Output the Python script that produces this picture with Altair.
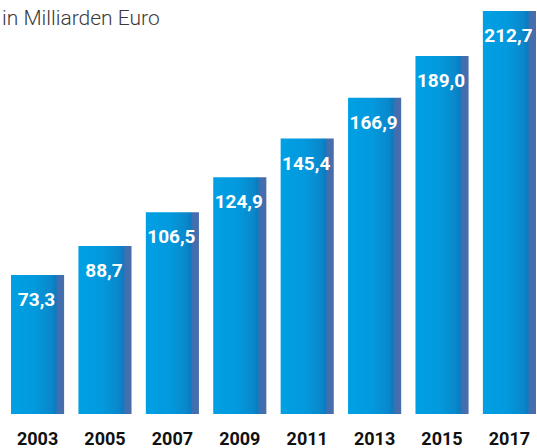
import altair as alt
import pandas as pd

years = ["2003", "2005", "2007", "2009", "2011", "2013", "2015", "2017"]
values = [73.3, 88.7, 106.5, 124.9, 145.4, 166.9, 189.0, 212.7]
labels = ["73,3", "88,7", "106,5", "124,9", "145,4", "166,9", "189,0", "212,7"]

df = pd.DataFrame({"year": years, "value": values, "label": labels})

grad = alt.LinearGradient(
    gradient="linear",
    x1=0, x2=1, y1=0, y2=0,
    stops=[
        alt.GradientStop(color="#00a0e4", offset=0),
        alt.GradientStop(color="#0399dd", offset=0.45),
        alt.GradientStop(color="#0a88cc", offset=0.75),
        alt.GradientStop(color="#0c7bc0", offset=0.84),
        alt.GradientStop(color="#3f6fb0", offset=0.88),
        alt.GradientStop(color="#4a6dab", offset=1),
    ],
)

x = alt.X("year:N", sort=years, title=None,
          scale=alt.Scale(paddingInner=0.212, paddingOuter=0),
          axis=alt.Axis(domain=False, ticks=False, labelAngle=0,
                        labelFont="Roboto", labelFontSize=18,
                        labelFontWeight="bold", labelColor="#111111",
                        labelPadding=16, labelBaseline="top"))
y = alt.Y("value:Q", title=None,
          scale=alt.Scale(domain=[0, 212.7], nice=False, zero=True),
          axis=None)

bars = alt.Chart(df).mark_bar(color=grad).encode(x=x, y=y)

text = alt.Chart(df).mark_text(
    color="white", font="Roboto", fontWeight="bold", fontSize=19,
    baseline="alphabetic", dy=31, dx=-1,
).encode(x=x, y=y, text="label:N")

chart = (bars + text).properties(
    width=525,
    height=403,
    padding={"top": 11, "bottom": 34, "left": 11, "right": 1},
    autosize=alt.AutoSizeParams(type="none"),
    title=alt.TitleParams(
        text="in Milliarden Euro", anchor="start", frame="group",
        font="Roboto", fontSize=21, fontWeight=300, color="#3a3a3a",
        baseline="alphabetic", offset=0, dx=-9, dy=35,
    ),
).configure_view(stroke=None)

chart.save("out.html", embed_options={"renderer": "svg", "actions": False})
